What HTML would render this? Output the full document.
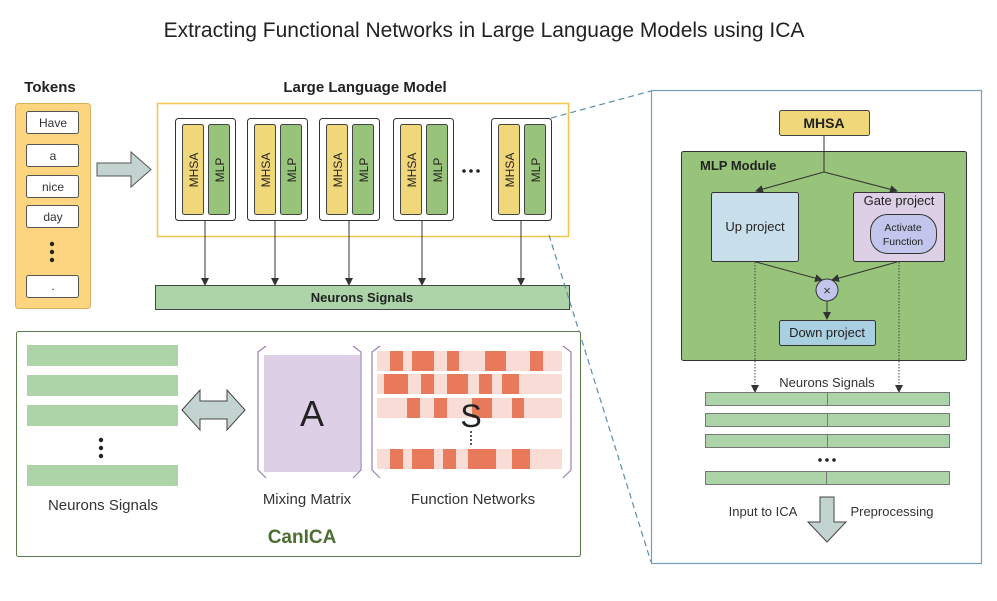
<!DOCTYPE html>
<html><head><meta charset="utf-8"><style>
body{margin:0;background:#fff}
svg{display:block;font-family:"Liberation Sans","DejaVu Sans",sans-serif}
</style></head><body>
<svg width="997" height="601" viewBox="0 0 997 601" xmlns="http://www.w3.org/2000/svg">
<defs>
<marker id="ah" markerWidth="8" markerHeight="8" refX="7" refY="4" orient="auto" markerUnits="userSpaceOnUse"><path d="M0,0 L8,4 L0,8 z" fill="#333"/></marker>
</defs>
<text x="484" y="37" font-size="21" text-anchor="middle" fill="#222">Extracting Functional Networks in Large Language Models using ICA</text>

<!-- Tokens -->
<text x="50" y="92" font-size="15" font-weight="bold" text-anchor="middle" fill="#222">Tokens</text>
<rect x="15.5" y="103.5" width="75" height="205" rx="3" fill="#fdd580" stroke="#d9b05a"/>
<g fill="#fff" stroke="#555" font-size="12">
<rect x="26.5" y="111.5" width="52" height="22" rx="2"/>
<rect x="26.5" y="144.5" width="52" height="22" rx="2"/>
<rect x="26.5" y="175.5" width="52" height="22" rx="2"/>
<rect x="26.5" y="205.5" width="52" height="22" rx="2"/>
<rect x="26.5" y="275.5" width="52" height="22" rx="2"/>
</g>
<g font-size="12" text-anchor="middle" fill="#333">
<text x="53" y="127">Have</text><text x="53" y="160">a</text><text x="53" y="191">nice</text><text x="53" y="221">day</text><text x="53" y="290">.</text>
</g>
<g fill="#222"><circle cx="52" cy="244" r="2.2"/><circle cx="52" cy="252" r="2.2"/><circle cx="52" cy="260" r="2.2"/></g>
<path d="M97,163 L131,163 L131,152 L151,169.5 L131,187 L131,176 L97,176 z" fill="#c3d3d0" stroke="#555"/>

<!-- LLM -->
<text x="365" y="92" font-size="15" font-weight="bold" text-anchor="middle" fill="#222">Large Language Model</text>
<rect x="157.5" y="103.5" width="411" height="133" fill="#fff" stroke="#f3c64a" stroke-width="1.5"/>
<g id="layers">
<g transform="translate(175,118)"><rect x=".5" y=".5" width="60" height="102" rx="3" fill="#fff" stroke="#333"/><rect x="7.5" y="6.5" width="21" height="90" rx="2" fill="#f0d77a" stroke="#444"/><rect x="33.5" y="6.5" width="21" height="90" rx="2" fill="#97c47a" stroke="#444"/><text transform="translate(23,52) rotate(-90)" font-size="12" text-anchor="middle" fill="#222">MHSA</text><text transform="translate(49,52) rotate(-90)" font-size="12" text-anchor="middle" fill="#222">MLP</text></g>
<g transform="translate(247,118)"><rect x=".5" y=".5" width="60" height="102" rx="3" fill="#fff" stroke="#333"/><rect x="7.5" y="6.5" width="21" height="90" rx="2" fill="#f0d77a" stroke="#444"/><rect x="33.5" y="6.5" width="21" height="90" rx="2" fill="#97c47a" stroke="#444"/><text transform="translate(23,52) rotate(-90)" font-size="12" text-anchor="middle" fill="#222">MHSA</text><text transform="translate(49,52) rotate(-90)" font-size="12" text-anchor="middle" fill="#222">MLP</text></g>
<g transform="translate(319,118)"><rect x=".5" y=".5" width="60" height="102" rx="3" fill="#fff" stroke="#333"/><rect x="7.5" y="6.5" width="21" height="90" rx="2" fill="#f0d77a" stroke="#444"/><rect x="33.5" y="6.5" width="21" height="90" rx="2" fill="#97c47a" stroke="#444"/><text transform="translate(23,52) rotate(-90)" font-size="12" text-anchor="middle" fill="#222">MHSA</text><text transform="translate(49,52) rotate(-90)" font-size="12" text-anchor="middle" fill="#222">MLP</text></g>
<g transform="translate(393,118)"><rect x=".5" y=".5" width="60" height="102" rx="3" fill="#fff" stroke="#333"/><rect x="7.5" y="6.5" width="21" height="90" rx="2" fill="#f0d77a" stroke="#444"/><rect x="33.5" y="6.5" width="21" height="90" rx="2" fill="#97c47a" stroke="#444"/><text transform="translate(23,52) rotate(-90)" font-size="12" text-anchor="middle" fill="#222">MHSA</text><text transform="translate(49,52) rotate(-90)" font-size="12" text-anchor="middle" fill="#222">MLP</text></g>
<g transform="translate(491,118)"><rect x=".5" y=".5" width="60" height="102" rx="3" fill="#fff" stroke="#333"/><rect x="7.5" y="6.5" width="21" height="90" rx="2" fill="#f0d77a" stroke="#444"/><rect x="33.5" y="6.5" width="21" height="90" rx="2" fill="#97c47a" stroke="#444"/><text transform="translate(23,52) rotate(-90)" font-size="12" text-anchor="middle" fill="#222">MHSA</text><text transform="translate(49,52) rotate(-90)" font-size="12" text-anchor="middle" fill="#222">MLP</text></g>
</g>
<g fill="#222"><circle cx="464" cy="171" r="1.8"/><circle cx="471" cy="171" r="1.8"/><circle cx="478" cy="171" r="1.8"/></g>
<g stroke="#333" stroke-width="1" marker-end="url(#ah)">
<line x1="205" y1="221" x2="205" y2="285"/><line x1="275" y1="221" x2="275" y2="285"/><line x1="349" y1="221" x2="349" y2="285"/><line x1="422" y1="221" x2="422" y2="285"/><line x1="521" y1="221" x2="521" y2="285"/>
</g>
<rect x="155.5" y="285.5" width="414" height="24" fill="#acd4a8" stroke="#444"/>
<text x="362" y="302" font-size="13" font-weight="bold" text-anchor="middle" fill="#222">Neurons Signals</text>

<!-- dashed -->
<g stroke="#5b8fad" stroke-dasharray="6,4" fill="none" stroke-width="1.2">
<line x1="551" y1="118" x2="651" y2="91"/><line x1="549" y1="235" x2="651" y2="562"/>
</g>

<!-- CanICA -->
<rect x="16.5" y="331.5" width="564" height="225" rx="2" fill="#fff" stroke="#5a7a4a"/>
<g fill="#acd4a8">
<rect x="27" y="345" width="151" height="21"/><rect x="27" y="375" width="151" height="21"/><rect x="27" y="405" width="151" height="21"/><rect x="27" y="465" width="151" height="21"/>
</g>
<g fill="#222"><circle cx="101" cy="440" r="2.2"/><circle cx="101" cy="448" r="2.2"/><circle cx="101" cy="456" r="2.2"/></g>
<text x="103" y="510" font-size="15" text-anchor="middle" fill="#333">Neurons Signals</text>
<path d="M182,410 L200,390 L200,401 L227,401 L227,390 L245,410 L227,430 L227,419 L200,419 L200,430 z" fill="#c3d3d0" stroke="#444"/>
<rect x="264" y="355" width="96" height="117" fill="#ddd0e6"/>
<g stroke="#9a7fb0" fill="none" stroke-width="1.2">
<path d="M266,346 L258,352 L258,470 L266,478"/><path d="M353,346 L361,352 L361,470 L353,478"/>
<path d="M380,346 L372,352 L372,470 L380,478"/><path d="M563,346 L571,352 L571,470 L563,478"/>
</g>
<text x="312" y="426" font-size="36" text-anchor="middle" fill="#222">A</text>
<g fill="#f9dcd5"><rect x="377" y="351" width="185" height="20"/><rect x="377" y="374" width="185" height="20"/><rect x="377" y="398" width="185" height="20"/><rect x="377" y="449" width="185" height="20"/></g>
<g fill="#e8795a">
<rect x="390" y="351" width="13" height="20"/><rect x="412" y="351" width="22" height="20"/><rect x="447" y="351" width="12" height="20"/><rect x="485" y="351" width="21" height="20"/><rect x="530" y="351" width="13" height="20"/>
<rect x="384" y="374" width="24" height="20"/><rect x="421" y="374" width="13" height="20"/><rect x="447" y="374" width="21" height="20"/><rect x="479" y="374" width="13" height="20"/><rect x="502" y="374" width="17" height="20"/>
<rect x="407" y="398" width="13" height="20"/><rect x="434" y="398" width="13" height="20"/><rect x="472" y="398" width="20" height="20"/><rect x="512" y="398" width="12" height="20"/>
<rect x="390" y="449" width="13" height="20"/><rect x="412" y="449" width="22" height="20"/><rect x="443" y="449" width="13" height="20"/><rect x="468" y="449" width="28" height="20"/><rect x="512" y="449" width="18" height="20"/>
</g>
<text x="471" y="427" font-size="32" text-anchor="middle" fill="#222">S</text>
<g fill="#222"><circle cx="471" cy="432" r="1"/><circle cx="471" cy="436" r="1"/><circle cx="471" cy="440" r="1"/><circle cx="471" cy="444" r="1"/></g>
<text x="307" y="504" font-size="15" text-anchor="middle" fill="#333">Mixing Matrix</text>
<text x="473" y="504" font-size="15" text-anchor="middle" fill="#333">Function Networks</text>
<text x="302" y="543" font-size="19" font-weight="bold" text-anchor="middle" fill="#4d6e33">CanICA</text>

<!-- Right panel -->
<rect x="651.5" y="90.5" width="330" height="473" fill="#fff" stroke="#6e9ec0" stroke-width="1.2"/>
<rect x="779.5" y="110.5" width="90" height="25" rx="2" fill="#f0d77a" stroke="#444"/>
<text x="824" y="128" font-size="14" font-weight="bold" text-anchor="middle" fill="#222">MHSA</text>
<rect x="681.5" y="151.5" width="285" height="209" rx="2" fill="#97c47a" stroke="#333"/>
<text x="700" y="170" font-size="13" font-weight="bold" fill="#222">MLP Module</text>
<line x1="824" y1="136" x2="824" y2="172" stroke="#333"/>
<g stroke="#333" fill="none" marker-end="url(#ah)">
<path d="M824,172 L756,191"/><path d="M824,172 L897,191"/>
<path d="M756,262 L822,280"/><path d="M897,262 L832,280"/>
<line x1="827" y1="301" x2="827" y2="319"/>
</g>
<rect x="711.5" y="192.5" width="87" height="69" rx="2" fill="#c9e0ec" stroke="#333"/>
<text x="755" y="231" font-size="13" text-anchor="middle" fill="#222">Up project</text>
<rect x="853.5" y="192.5" width="91" height="69" rx="2" fill="#ddd0e6" stroke="#333"/>
<text x="899" y="205" font-size="13" text-anchor="middle" fill="#222">Gate project</text>
<rect x="870.5" y="214.5" width="66" height="39" rx="17" fill="#c3c6ec" stroke="#333"/>
<text x="903" y="231" font-size="10.5" text-anchor="middle" fill="#222">Activate</text>
<text x="903" y="245" font-size="10.5" text-anchor="middle" fill="#222">Function</text>
<circle cx="827" cy="290" r="11" fill="#c3c6ec" stroke="#333"/>
<text x="827" y="295" font-size="13" text-anchor="middle" fill="#333">×</text>
<rect x="779.5" y="320.5" width="96" height="25" rx="2" fill="#a9cfe0" stroke="#333"/>
<text x="827" y="337" font-size="13" text-anchor="middle" fill="#222">Down project</text>
<g stroke="#444" stroke-dasharray="1.5,1.5" marker-end="url(#ah)">
<line x1="755" y1="262" x2="755" y2="392"/><line x1="899" y1="262" x2="899" y2="392"/>
</g>
<text x="827" y="387" font-size="13" text-anchor="middle" fill="#333">Neurons Signals</text>
<g fill="#acd4a8" stroke="#777">
<rect x="705.5" y="392.5" width="244" height="13"/><rect x="705.5" y="413.5" width="244" height="13"/><rect x="705.5" y="434.5" width="244" height="13"/><rect x="705.5" y="471.5" width="244" height="13"/>
</g>
<g stroke="#777"><line x1="827.5" y1="392" x2="827.5" y2="406"/><line x1="827.5" y1="413" x2="827.5" y2="427"/><line x1="827.5" y1="434" x2="827.5" y2="448"/><line x1="826.5" y1="471" x2="826.5" y2="485"/></g>
<g fill="#222"><circle cx="820" cy="460" r="1.8"/><circle cx="827" cy="460" r="1.8"/><circle cx="834" cy="460" r="1.8"/></g>
<path d="M820,497 L834,497 L834,522 L846,522 L827,542 L808,522 L820,522 z" fill="#c3d3d0" stroke="#444"/>
<text x="763" y="516" font-size="13" text-anchor="middle" fill="#333">Input to ICA</text>
<text x="892" y="516" font-size="13" text-anchor="middle" fill="#333">Preprocessing</text>
</svg>
</body></html>
